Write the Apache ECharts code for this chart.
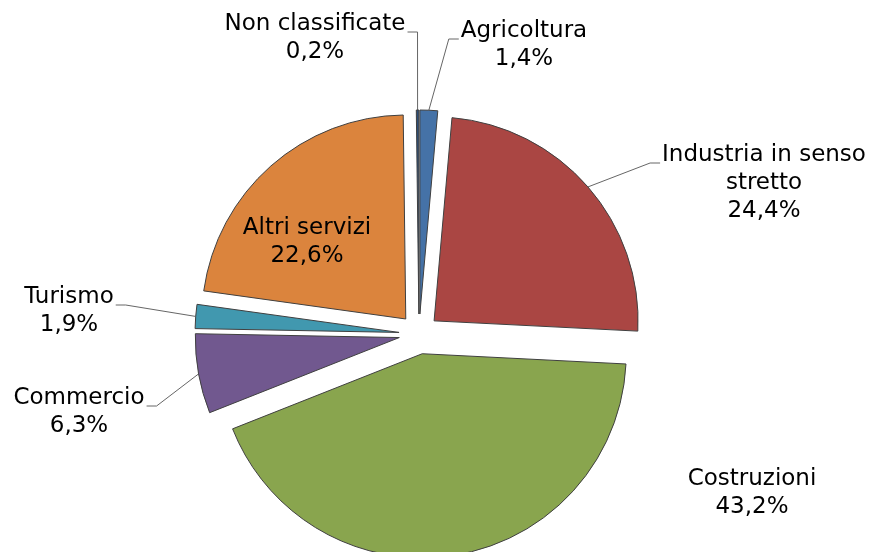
<!DOCTYPE html>
<html><head><meta charset="utf-8">
<script src="https://cdn.jsdelivr.net/npm/echarts@6/dist/echarts.min.js"></script>
<style>html,body{margin:0;padding:0;background:#fff}#c{width:872px;height:552px}</style>
</head><body><div id="c"></div>
<script>
const categories = ['Agricoltura', 'Industria in senso\nstretto', 'Costruzioni', 'Commercio', 'Turismo', 'Altri servizi', 'Non classificate'];
const values = [1.4, 24.4, 43.2, 6.3, 1.9, 22.6, 0.2];
const colors = ['#4572A7', '#AA4643', '#89A54E', '#71588F', '#4198AF', '#DB843D', '#2C4D75'];
const showLine = [true, true, false, true, true, false, true];
// label block anchor: [center x, top y]
const labelPos = [[524, 17], [764, 141], [752, 465], [79, 384], [69, 283], [307, 214], [315, 10]];

const CENTER = [419, 334], R = 204, EXPLODE = 20;

const chart = echarts.init(document.getElementById('c'), null, {renderer: 'canvas'});
chart.setOption({
  animation: false,
  backgroundColor: '#ffffff',
  series: [{
    // exploded slices
    type: 'pie',
    center: CENTER,
    radius: R,
    startAngle: 90,
    clockwise: true,
    selectedMode: 'multiple',
    selectedOffset: EXPLODE,
    silent: true,
    itemStyle: {borderColor: '#404040', borderWidth: 1},
    label: {show: false},
    labelLine: {show: false},
    emphasis: {disabled: true},
    data: categories.map((c, i) => ({
      name: c, value: values[i], selected: true, itemStyle: {color: colors[i]}
    }))
  }, {
    // invisible carrier for labels and leader lines
    type: 'pie',
    center: CENTER,
    radius: R + EXPLODE,
    startAngle: 90,
    clockwise: true,
    silent: true,
    avoidLabelOverlap: false,
    itemStyle: {color: 'rgba(0,0,0,0)', borderWidth: 0},
    label: {
      show: true,
      position: 'outside',
      fontFamily: 'DejaVu Sans',
      fontSize: 23,
      lineHeight: 28,
      color: '#000',
      align: 'center',
      formatter: p => p.name + '\n' + p.value.toFixed(1).replace('.', ',') + '%'
    },
    labelLine: {show: true, length: 10, length2: 10, lineStyle: {color: '#666', width: 1}},
    labelLayout: p => {
      const i = p.dataIndex;
      const cx = labelPos[i][0], top = labelPos[i][1];
      const out = {x: cx, y: top, align: 'center', verticalAlign: 'top'};
      if (showLine[i] && p.labelLinePoints && p.labelLinePoints.length) {
        const a = p.labelLinePoints[0];
        const hw = p.labelRect.width / 2;
        const right = a[0] > cx;
        const ex = right ? cx + hw + 2 : cx - hw - 2;
        const ey = top + 22;
        out.labelLinePoints = [a, [ex + (right ? 10 : -10), ey], [ex, ey]];
      }
      return out;
    },
    emphasis: {disabled: true},
    data: categories.map((c, i) => ({
      name: c, value: values[i], labelLine: {show: showLine[i]}
    }))
  }]
});
</script>
</body></html>
